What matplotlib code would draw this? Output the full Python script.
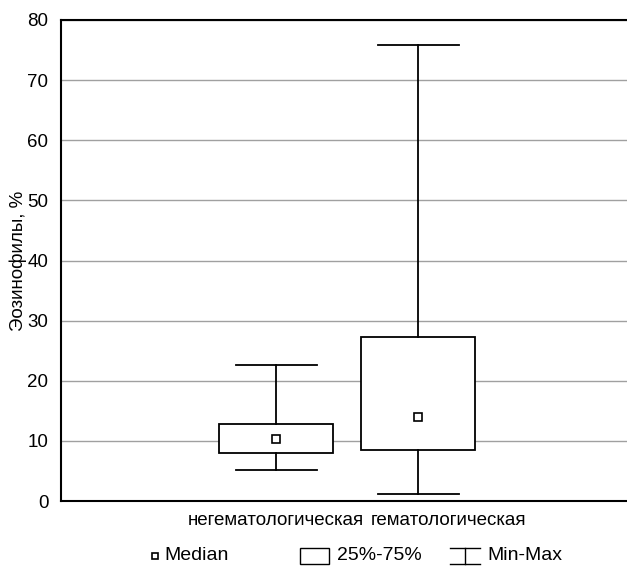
import matplotlib
matplotlib.use("Agg")
import matplotlib.pyplot as plt
import matplotlib.transforms as mtransforms
from matplotlib.lines import Line2D
from matplotlib.patches import Rectangle

plt.rcParams['font.family'] = ['Liberation Sans', 'DejaVu Sans']

# данные
groups = ["негематологическая", "гематологическая"]
positions = [1, 2]
mins = [5.2, 1.2]
q1 = [8.0, 8.4]
medians = [10.3, 14.0]
q3 = [12.8, 27.2]
maxs = [22.7, 75.9]
yticks = [0, 10, 20, 30, 40, 50, 60, 70, 80]

fig = plt.figure(figsize=(6.27, 5.66), dpi=100)
ax = fig.add_axes([61 / 627, 1 - 501 / 566, 1 - 61 / 627, (501 - 20) / 566])

stats = []
for i in range(len(groups)):
    stats.append({"med": medians[i], "q1": q1[i], "q3": q3[i],
                  "whislo": mins[i], "whishi": maxs[i], "label": groups[i]})

ax.bxp(stats, positions=positions, widths=0.8, capwidths=0.57,
       showfliers=False, patch_artist=True,
       boxprops=dict(facecolor="white", edgecolor="black", linewidth=1.3),
       whiskerprops=dict(color="black", linewidth=1.3),
       capprops=dict(color="black", linewidth=1.3),
       medianprops=dict(visible=False), zorder=3)
ax.plot(positions, medians, ls="none", marker="s", ms=5.5, mfc="white",
        mec="black", mew=1.2, zorder=4)

ax.set_xlim(-0.514, 3.47)
ax.set_ylim(0, 80)
ax.set_yticks(yticks)
ax.yaxis.grid(True, color="#a0a0a0", linewidth=1)
ax.set_axisbelow(True)
ax.tick_params(axis="y", length=0, pad=9, labelsize=13.5)
ax.set_ylabel("Эозинофилы, %", fontsize=13.5, labelpad=0)
ax.spines["right"].set_visible(False)
for s in ["left", "top", "bottom"]:
    ax.spines[s].set_linewidth(1.5)

# подписи групп
ax.set_xticks(positions)
ax.set_xticklabels(groups, fontsize=13.5)
ax.tick_params(axis="x", length=0, pad=8)
aligns = ["right", "left"]
shifts = [88, -47]
for lbl, ha, dx in zip(ax.get_xticklabels(), aligns, shifts):
    lbl.set_ha(ha)
    lbl.set_transform(lbl.get_transform() +
                      mtransforms.ScaledTranslation(dx / 100, 0, fig.dpi_scale_trans))

# легенда
ly = 1 - 556 / 566
fig.add_artist(Line2D([155 / 627], [ly], ls="none", marker="s", ms=5, mfc="white",
                      mec="black", mew=1.2, transform=fig.transFigure))
fig.text(164 / 627, ly, "Median", fontsize=14, va="center")
fig.add_artist(Rectangle((300 / 627, 1 - 564 / 566), 29 / 627, 16 / 566,
                         facecolor="white", edgecolor="black", linewidth=1,
                         transform=fig.transFigure))
fig.text(337 / 627, ly, "25%-75%", fontsize=14, va="center")
fig.add_artist(Line2D([450 / 627, 480 / 627], [1 - 548 / 566] * 2, color="black",
                      lw=1, transform=fig.transFigure))
fig.add_artist(Line2D([450 / 627, 480 / 627], [1 - 564 / 566] * 2, color="black",
                      lw=1, transform=fig.transFigure))
fig.add_artist(Line2D([465 / 627, 465 / 627], [1 - 548 / 566, 1 - 564 / 566],
                      color="black", lw=1, transform=fig.transFigure))
fig.text(487 / 627, ly, "Min-Max", fontsize=14, va="center")

fig.savefig("out.png", dpi=100)
